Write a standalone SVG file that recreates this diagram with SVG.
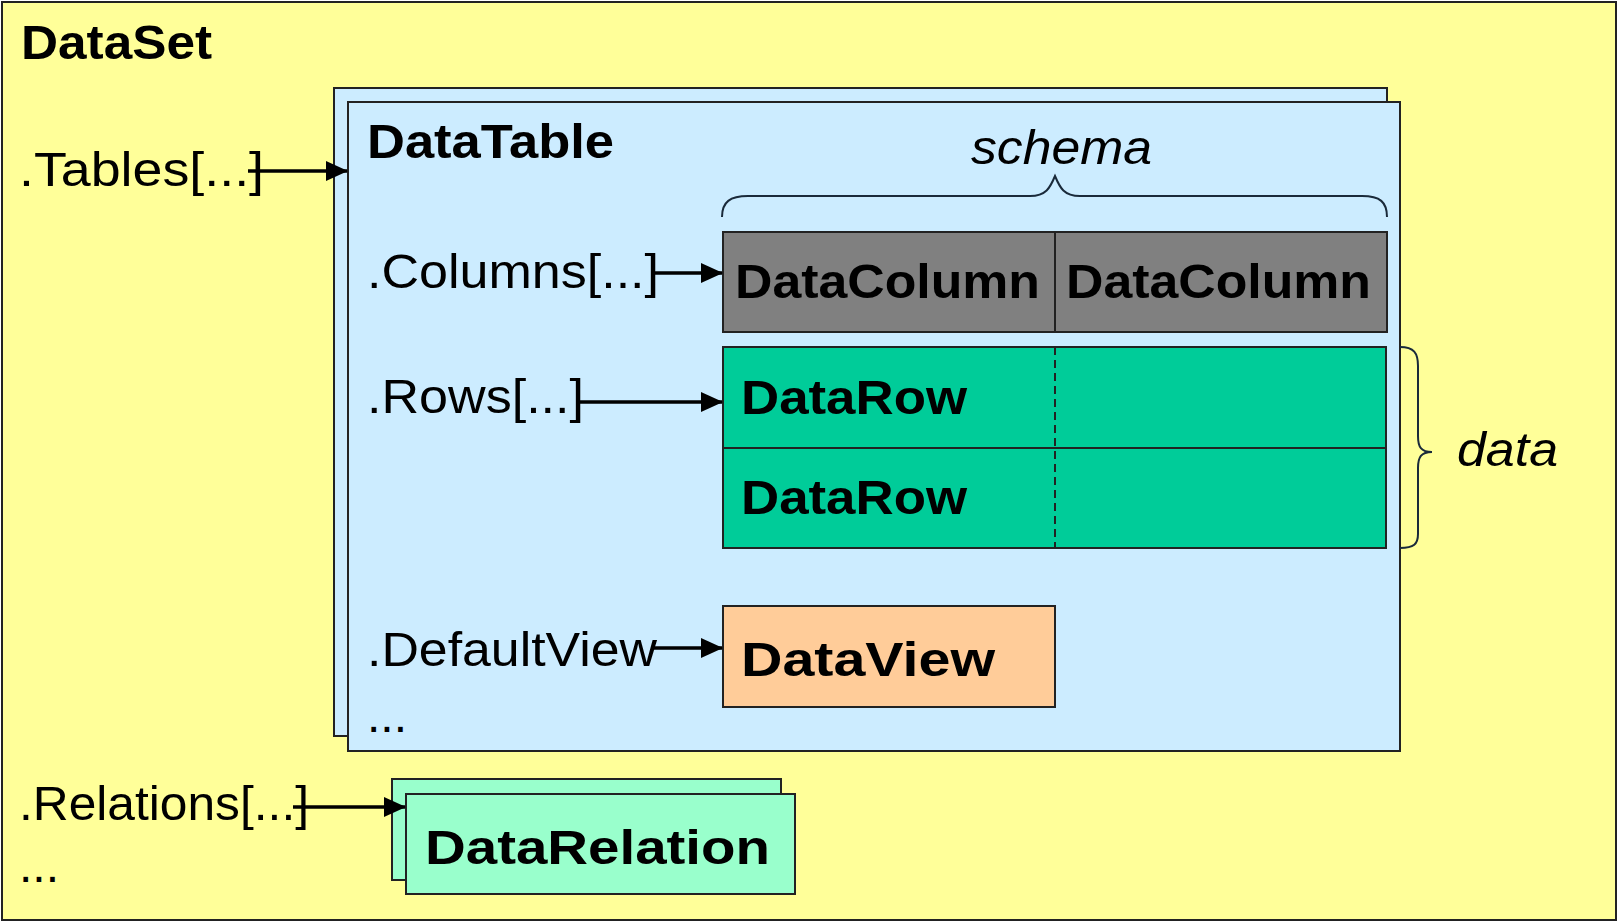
<svg xmlns="http://www.w3.org/2000/svg" width="1619" height="923" viewBox="0 0 1619 923">
<defs>
<marker id="arr" markerWidth="22" markerHeight="22" refX="21" refY="11" orient="auto" markerUnits="userSpaceOnUse">
<path d="M0,1 L22,11 L0,21 Z" fill="#000"/>
</marker>
<style>
.box{stroke:#222;stroke-width:2}
.t{font-family:"Liberation Sans",Arial,sans-serif;font-size:48px;fill:#000}
.b{font-weight:bold}
.i{font-style:italic}
.con{stroke:#000;stroke-width:3.5;fill:none}
.brace{stroke:#1a2a3a;stroke-width:2;fill:none}
</style>
</defs>
<g id="dataset">
<rect class="box" x="2" y="2" width="1614" height="918" fill="#FFFF99"/>
<text class="t b" x="21" y="59" textLength="191" lengthAdjust="spacingAndGlyphs">DataSet</text>
<text class="t" x="19" y="186" textLength="245" lengthAdjust="spacingAndGlyphs">.Tables[...]</text>
<text class="t" x="19" y="820" textLength="290" lengthAdjust="spacingAndGlyphs">.Relations[...]</text>
<text class="t" x="19" y="882" textLength="40" lengthAdjust="spacingAndGlyphs">...</text>
</g>
<g id="datatable">
<rect class="box" x="334" y="88" width="1053" height="648" fill="#CCECFF"/>
<rect class="box" x="348" y="102" width="1052" height="649" fill="#CCECFF"/>
<text class="t b" x="367" y="158" textLength="247" lengthAdjust="spacingAndGlyphs">DataTable</text>
<text class="t" x="367" y="288" textLength="292" lengthAdjust="spacingAndGlyphs">.Columns[...]</text>
<text class="t" x="367" y="413" textLength="217" lengthAdjust="spacingAndGlyphs">.Rows[...]</text>
<text class="t" x="367" y="666" textLength="290" lengthAdjust="spacingAndGlyphs">.DefaultView</text>
<text class="t" x="367" y="732" textLength="40" lengthAdjust="spacingAndGlyphs">...</text>
<text class="t i" x="971" y="164" textLength="181" lengthAdjust="spacingAndGlyphs">schema</text>
<path class="brace" d="M722,217 C722,202 730,196 748,196 L1030,196 C1046,196 1050,188 1055,176 C1060,188 1064,196 1080,196 L1362,196 C1380,196 1387,202 1387,217"/>
</g>
<g id="columns">
<rect class="box" x="723" y="232" width="332" height="100" fill="#808080"/>
<rect class="box" x="1055" y="232" width="332" height="100" fill="#808080"/>
<text class="t b" x="735" y="298" textLength="305" lengthAdjust="spacingAndGlyphs">DataColumn</text>
<text class="t b" x="1066" y="298" textLength="305" lengthAdjust="spacingAndGlyphs">DataColumn</text>
</g>
<g id="rows">
<rect class="box" x="723" y="347" width="663" height="101" fill="#00CC99"/>
<rect class="box" x="723" y="448" width="663" height="100" fill="#00CC99"/>
<line x1="1055" y1="347" x2="1055" y2="548" stroke="#222" stroke-width="2" stroke-dasharray="8,5"/>
<text class="t b" x="741" y="414" textLength="226" lengthAdjust="spacingAndGlyphs">DataRow</text>
<text class="t b" x="741" y="514" textLength="226" lengthAdjust="spacingAndGlyphs">DataRow</text>
</g>
<g id="data-label">
<path class="brace" d="M1400,347 C1414,347 1418,353 1418,366 L1418,436 C1418,447 1421,452 1432,452 C1421,452 1418,457 1418,468 L1418,534 C1418,544 1414,548 1400,548"/>
<text class="t i" x="1457" y="466" textLength="101" lengthAdjust="spacingAndGlyphs">data</text>
</g>
<g id="dataview">
<rect class="box" x="723" y="606" width="332" height="101" fill="#FFCC99"/>
<text class="t b" x="741" y="676" textLength="254" lengthAdjust="spacingAndGlyphs">DataView</text>
</g>
<g id="datarelation">
<rect class="box" x="392" y="779" width="389" height="101" fill="#99FFCC"/>
<rect class="box" x="406" y="794" width="389" height="100" fill="#99FFCC"/>
<text class="t b" x="425" y="864" textLength="345" lengthAdjust="spacingAndGlyphs">DataRelation</text>
</g>
<g id="connectors">
<line class="con" x1="248" y1="171" x2="347" y2="171" marker-end="url(#arr)"/>
<line class="con" x1="655" y1="273" x2="722" y2="273" marker-end="url(#arr)"/>
<line class="con" x1="578" y1="402" x2="722" y2="402" marker-end="url(#arr)"/>
<line class="con" x1="652" y1="648" x2="722" y2="648" marker-end="url(#arr)"/>
<line class="con" x1="293" y1="807" x2="405" y2="807" marker-end="url(#arr)"/>
</g>
</svg>
